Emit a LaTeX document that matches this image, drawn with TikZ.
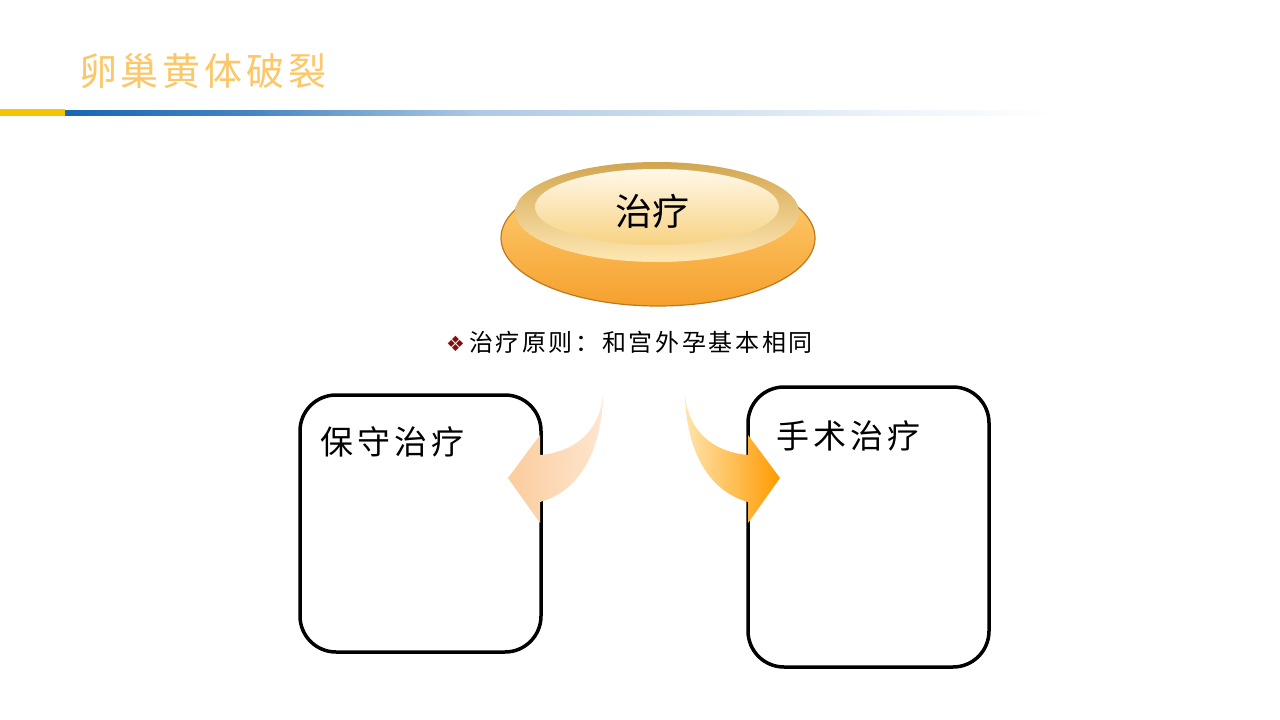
\documentclass[tikz,border=0pt]{standalone}
\usepackage{fontspec}
\newfontfamily\cjk{Noto Sans CJK SC}
\newfontfamily\cjktitle[LetterSpace=10]{Noto Sans CJK SC}
\newfontfamily\cjkbody[LetterSpace=11]{Noto Sans CJK SC}
\newfontfamily\cjkbox[LetterSpace=12]{Noto Sans CJK SC}
\newfontfamily\symfont{DejaVu Sans}
\definecolor{titleorange}{HTML}{FBC768}
\definecolor{baryellow}{HTML}{F5C400}
\definecolor{lineblue}{HTML}{1766B2}
\definecolor{bulletred}{HTML}{8B0A0A}
\definecolor{platetop}{HTML}{FFD37A}
\definecolor{platebot}{HTML}{F5A02D}
\definecolor{plateedge}{HTML}{BE781E}
\definecolor{ringtop}{HTML}{D2A650}
\definecolor{ringbot}{HTML}{FFE8B4}
\definecolor{innertop}{HTML}{FFF8E8}
\definecolor{innerbot}{HTML}{F7D282}
\definecolor{larrowA}{HTML}{FCCC9C}
\definecolor{larrowB}{HTML}{FDE6D0}
\definecolor{rarrowA}{HTML}{FFE4AC}
\definecolor{rarrowB}{HTML}{FF9A00}
\tikzset{
  roundbox/.style={draw=black, line width=3.5pt, rounded corners=36pt, fill=white},
  boxlabel/.style={anchor=west, inner sep=0pt, font=\cjkbox\fontsize{33}{36}\selectfont},
}
\begin{document}
\begin{tikzpicture}[x=1pt,y=-1pt]
\useasboundingbox[fill=white] (0,0) rectangle (1280,720);
% title
\node[anchor=west, inner sep=0pt, text=titleorange, font=\cjktitle\fontsize{38}{42}\selectfont] (title) at (79,71) {卵巢黄体破裂};
% header bars
\fill[baryellow] (0,109) rectangle (65,116);
\shade[left color=lineblue, right color=lineblue!80!white] (65,110) rectangle (250,115);
\shade[left color=lineblue!80!white, right color=lineblue!35!white] (250,110) rectangle (480,115);
\shade[left color=lineblue!35!white, right color=lineblue!7!white] (480,110) rectangle (900,115);
\shade[left color=lineblue!7!white, right color=white] (900,110) rectangle (1060,115);
% plate
\shade[top color=platetop, bottom color=platebot] (658,238) ellipse [x radius=157, y radius=68];
\draw[plateedge, line width=1.2pt] (658,238) ellipse [x radius=157, y radius=68];
\shade[top color=ringtop, bottom color=ringbot] (657,212) ellipse [x radius=142, y radius=50];
\shade[shading angle=20, top color=innertop, bottom color=innerbot] (657,207) ellipse [x radius=122, y radius=38];
\node[inner sep=0pt, font=\cjk\fontsize{37}{40}\selectfont] (plate) at (652,211) {治疗};
% principle line
\node[anchor=west, inner sep=0pt] (principle) at (446,342) {{\symfont\fontsize{21}{24}\selectfont\color{bulletred}❖}\hspace{4pt}{\cjkbody\fontsize{24}{28}\selectfont 治疗原则：和宫外孕基本相同}};
% boxes
\draw[roundbox] (300,395) rectangle (541,652);
\node[boxlabel] (cons) at (320,442) {保守治疗};
\draw[roundbox] (748,387) rectangle (989,667);
\node[boxlabel] (surg) at (776,436) {手术治疗};
% arrows
\shade[left color=larrowA, right color=larrowB]
  (603,395) .. controls (600,430) and (576,452) .. (540,455) -- (540,435) -- (508,478) -- (540,523) -- (540,502)
  .. controls (583,490) and (602,445) .. (603,395) -- cycle;
\shade[left color=rarrowA, right color=rarrowB]
  (685,395) .. controls (688,430) and (712,452) .. (748,455) -- (748,435) -- (780,478) -- (748,523) -- (748,502)
  .. controls (705,490) and (686,445) .. (685,395) -- cycle;
\end{tikzpicture}
\end{document}
